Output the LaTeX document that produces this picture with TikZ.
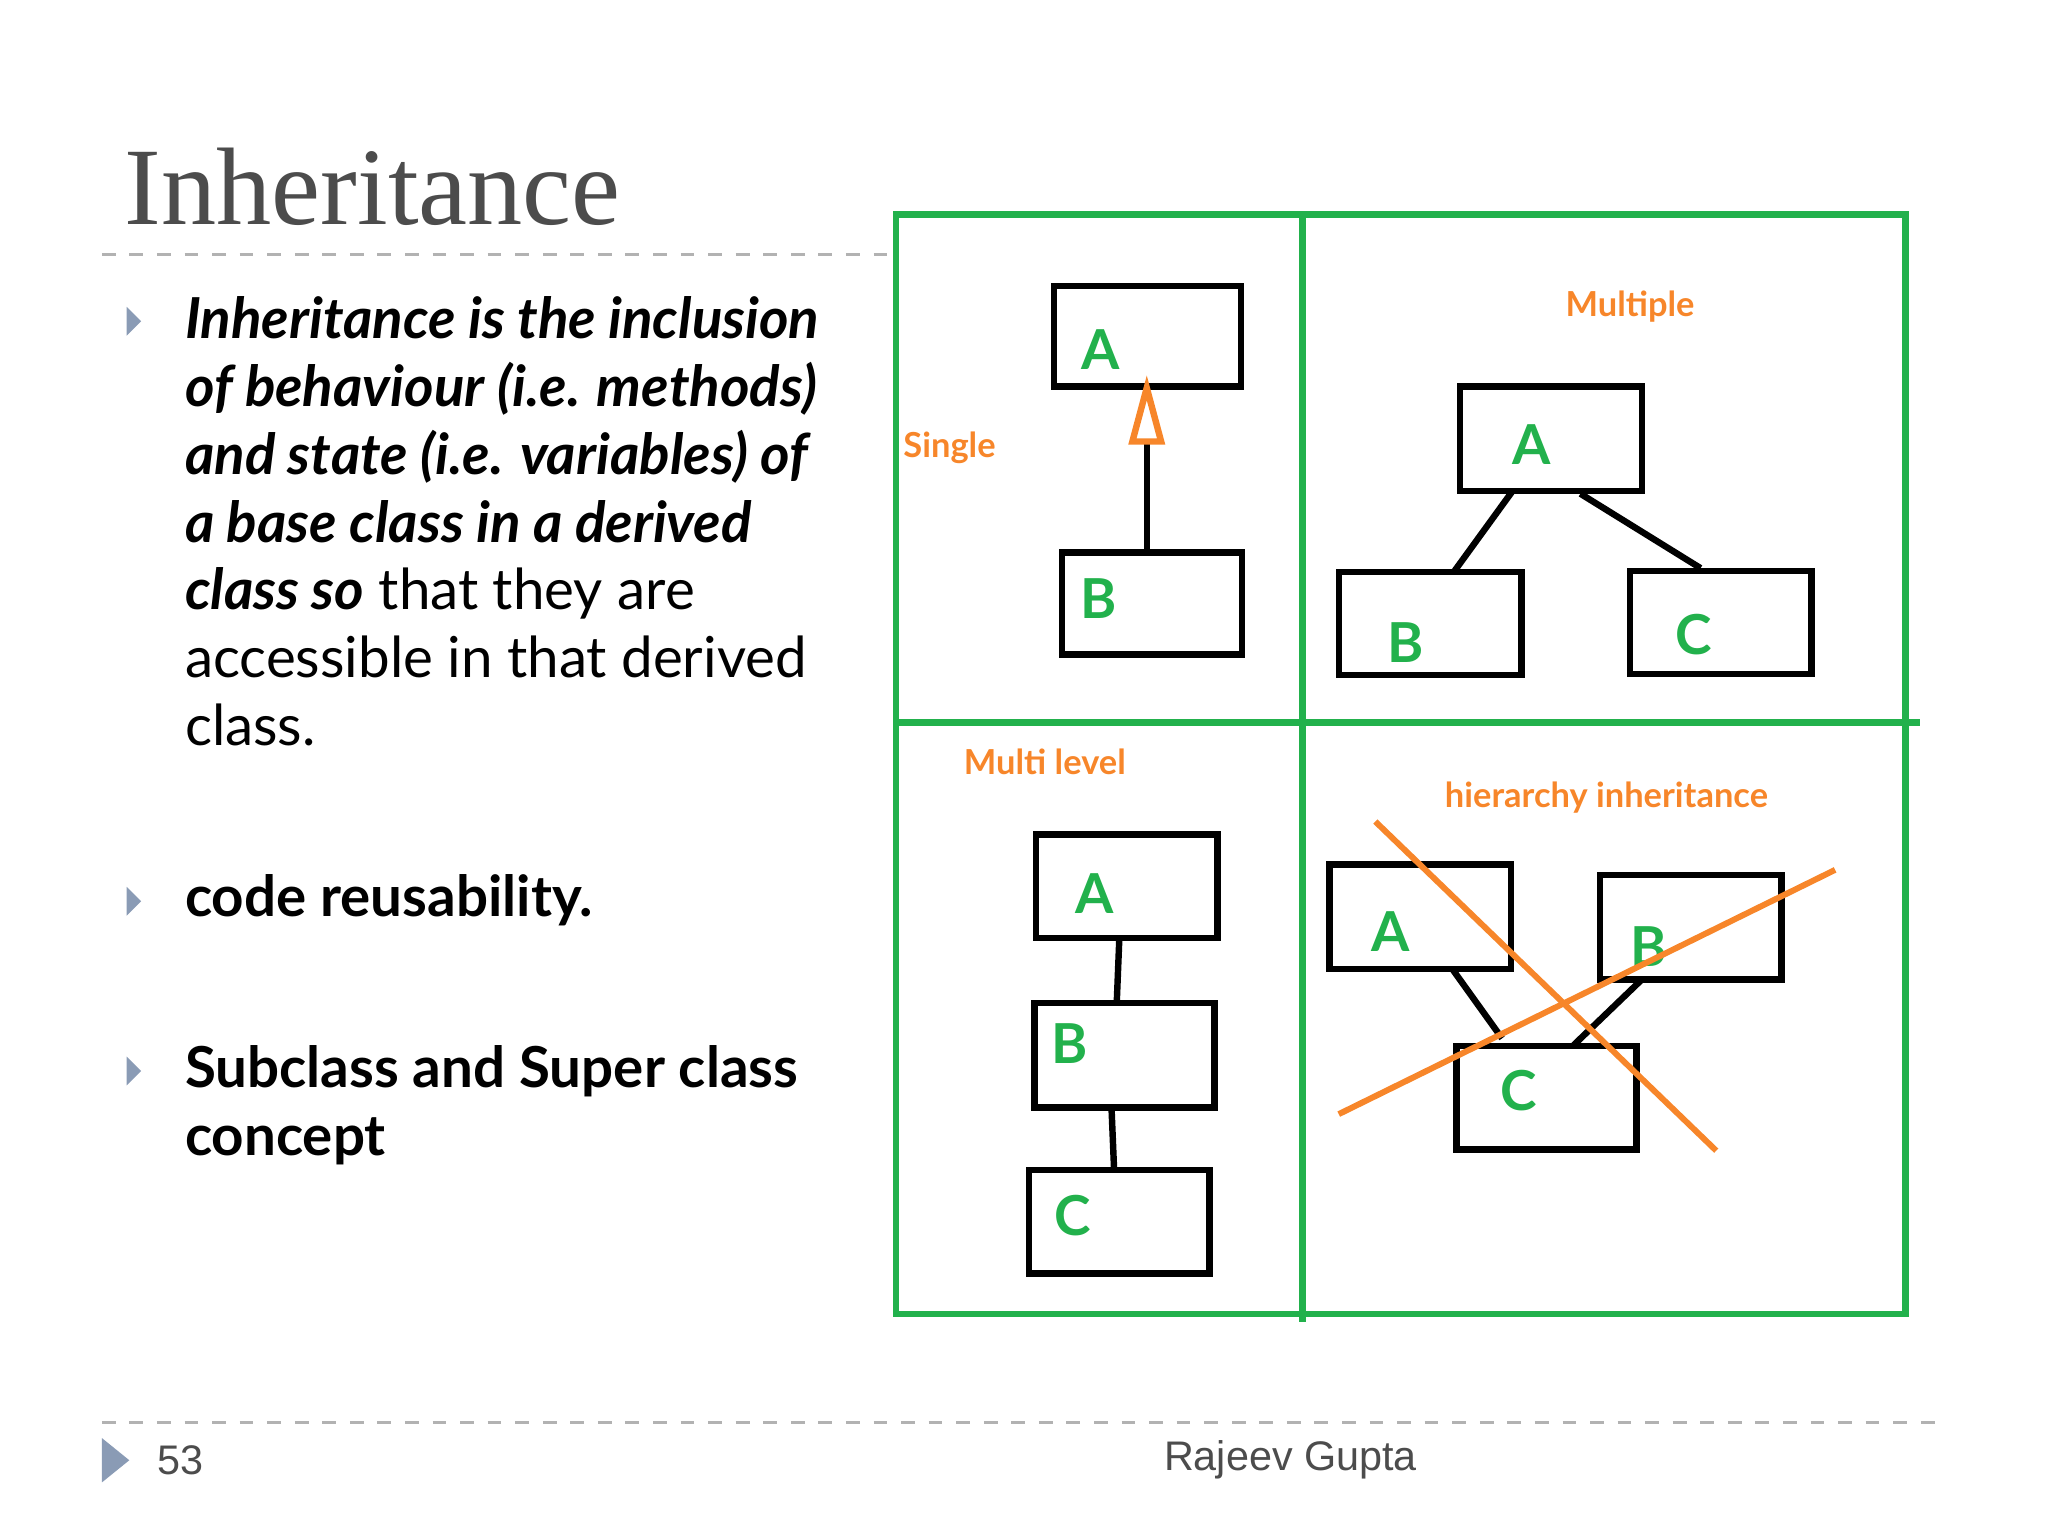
\documentclass[tikz,border=0pt]{standalone}
\usepackage{fontspec}
\setmainfont{Lato}
\newfontfamily\serifff{Liberation Serif}
\newfontfamily\arialff{Liberation Sans}
\usetikzlibrary{arrows.meta}
\definecolor{gr}{HTML}{22B14C}
\definecolor{org}{HTML}{F7862A}
\definecolor{tri}{HTML}{8A9BB5}
\begin{document}
\begin{tikzpicture}[x=0.01cm,y=-0.01cm,
  box/.style={draw=black,line width=1.4pt},
  lnk/.style={draw=black,line width=1.4pt},
  frame/.style={draw=gr,line width=1.5pt},
  let/.style={text=gr,font=\fontsize{12}{12}\selectfont\bfseries},
  lab/.style={text=org,font=\fontsize{7.5}{7.5}\selectfont\bfseries},
  cross/.style={draw=org,line width=1.3pt},
  bul/.style={fill=tri,draw=none},
  txt/.style={inner sep=0pt,align=left,font=\fontsize{12.3}{14.8}\selectfont},
  dline/.style={draw=gray!60,dashed,line width=0.6pt}]
\useasboundingbox (0,0) rectangle (1568,1176);
\node[inner sep=0pt,anchor=base west,text=black!70,font=\serifff\fontsize{24}{24}\selectfont] (title) at (95,172) {Inheritance};
\draw[dline] (78,195) -- (680,195);
\draw[dline] (78,1089) -- (1490,1089);
\foreach \y in {246,690,820}{\fill[bul] (97,\y-11) -- (108,\y) -- (97,\y+11) -- cycle;}
\node[txt,anchor=north west] (t1) at (141,226)
{\textbf{\itshape Inheritance is the inclusion}\\ \textbf{\itshape of behaviour (i.e. methods)}\\ \textbf{\itshape and state (i.e. variables) of}\\ \textbf{\itshape a base class in a derived}\\ \textbf{\itshape class so} that they are\\ accessible in that derived\\ class.};
\node[txt,anchor=base west,font=\fontsize{12.3}{14.8}\selectfont\bfseries] (t2) at (141,702) {code reusability.};
\node[txt,anchor=north west,font=\fontsize{12.3}{14.8}\selectfont\bfseries] (t3) at (141,800) {Subclass and Super class\\ concept};
\fill[tri] (78,1101) -- (99,1118) -- (78,1135) -- cycle;
\node[font=\arialff\fontsize{9}{9}\selectfont,text=black!70] (pg) at (138,1118) {53};
\node[font=\arialff\fontsize{9}{9}\selectfont,text=black!70] (au) at (988,1118) {Rajeev Gupta};
\draw[frame] (686,164) rectangle (1459,1006);
\draw[frame] (997,164) -- (997,1012);
\draw[frame] (686,553) -- (1470,553);
\node[lab] (ls) at (727,343) {Single};
\draw[box] (807,219) rectangle (950,296); \node[let] (sa) at (843,268) {A};
\draw[box] (813,423) rectangle (951,501); \node[let] (sb) at (841,458) {B};
\coordinate (sbt) at (878,423); \coordinate (sat) at (878,297);
\draw[lnk] (sbt) -- (878,338);
\draw[draw=org,line width=1.4pt,fill=white] (sat) -- (889,338) -- (867,338) -- cycle;
\node[lab] (lm) at (1248,235) {Multiple};
\draw[box] (1118,296) rectangle (1257,376); \node[let] (ma) at (1173,340) {A};
\draw[box] (1025,438) rectangle (1165,517); \node[let] (mb) at (1076,492) {B};
\draw[box] (1248,437) rectangle (1387,516); \node[let] (mc) at (1297,486) {C};
\draw[lnk] (1158,376) -- (1113,438);
\draw[lnk] (1210,378) -- (1302,435);
\node[lab] (ll) at (800,583) {Multi level};
\draw[box] (793,639) rectangle (932,718); \node[let] (la) at (838,684) {A};
\draw[box] (792,768) rectangle (930,848); \node[let] (lb) at (819,799) {B};
\draw[box] (788,896) rectangle (926,975); \node[let] (lc) at (821,931) {C};
\draw[lnk] (857,718) -- (855,768);
\draw[lnk] (851,848) -- (853,896);
\node[lab] (lh) at (1230,611) {hierarchy inheritance};
\draw[box] (1018,662) rectangle (1157,742); \node[let] (ha) at (1065,713) {A};
\draw[box] (1225,670) rectangle (1364,750); \node[let] (hb) at (1262,725) {B};
\draw[box] (1115,801) rectangle (1253,880); \node[let] (hc) at (1163,835) {C};
\draw[lnk] (1112,742) -- (1150,795);
\draw[lnk] (1257,750) -- (1205,800);
\draw[cross] (1053,629) -- (1314,881);
\draw[cross] (1025,853) -- (1405,666);
\end{tikzpicture}
\end{document}
